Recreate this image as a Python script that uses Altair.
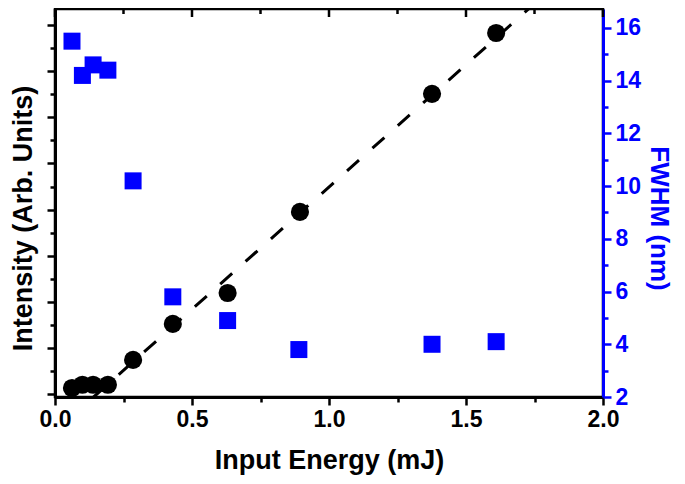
import altair as alt
import pandas as pd

# Data
energy = [0.062, 0.10, 0.139, 0.193, 0.285, 0.43, 0.63, 0.894, 1.376, 1.61]
intensity = [0.13, 0.20, 0.20, 0.20, 0.74, 1.52, 2.19, 3.95, 6.51, 7.83]
fwhm_energy = [0.062, 0.10, 0.139, 0.193, 0.285, 0.43, 0.63, 0.89, 1.376, 1.61]
fwhm = [15.5, 14.2, 14.6, 14.4, 10.2, 5.8, 4.9, 3.8, 4.0, 4.1]
fit_energy = [0.14, 1.745]
fit_intensity = [-0.07, 8.44]
x_ticks = [0.0, 0.25, 0.5, 0.75, 1.0, 1.25, 1.5, 1.75, 2.0]
top_major = [0.0, 0.5, 1.0, 1.5, 2.0]
top_minor = [0.25, 0.75, 1.25, 1.75]
left_ticks = [0, 0.5, 1, 1.5, 2, 2.5, 3, 3.5, 4, 4.5, 5, 5.5, 6, 6.5, 7, 7.5, 8]
right_ticks = [2, 3, 4, 5, 6, 7, 8, 9, 10, 11, 12, 13, 14, 15, 16]

BLUE = "#0000FF"
FONT = "Liberation Sans"

df_int = pd.DataFrame({"E": energy, "I": intensity})
df_fw = pd.DataFrame({"E": fwhm_energy, "F": fwhm})
df_fit = pd.DataFrame({"E": fit_energy, "I": fit_intensity})
df_tmaj = pd.DataFrame({"E": top_major})
df_tmin = pd.DataFrame({"E": top_minor})

xscale = alt.Scale(domain=[0, 2], nice=False, zero=False)
yleft = alt.Scale(domain=[-0.065, 8.35], nice=False, zero=False)
yright = alt.Scale(domain=[2, 16.72], nice=False, zero=False)

x_axis = alt.Axis(
    values=x_ticks,
    labelExpr="datum.value % 0.5 === 0 ? format(datum.value, '.1f') : ''",
    title="Input Energy (mJ)",
    grid=False,
    domainColor="black", domainWidth=3,
    tickColor="black", tickWidth=2.5,
    tickSize={"condition": {"test": "datum.value % 0.5 === 0", "value": 8}, "value": 5},
    labelFont=FONT, labelFontSize=23, labelFontWeight="bold", labelColor="black",
    labelPadding=3, labelFlush=False,
    titleFont=FONT, titleFontSize=27, titleFontWeight="bold", titleColor="black",
    titlePadding=16,
)

yl_axis = alt.Axis(
    values=left_ticks,
    labels=False,
    title="Intensity (Arb. Units)",
    grid=False,
    domainColor="black", domainWidth=3,
    tickColor="black", tickWidth=2.5,
    tickSize={"condition": {"test": "datum.value % 1 === 0", "value": 8}, "value": 5},
    titleFont=FONT, titleFontSize=27, titleFontWeight="bold", titleColor="black",
    titlePadding=8, titleY=209,
)

yr_axis = alt.Axis(
    orient="right",
    values=right_ticks,
    labelExpr="datum.value % 2 === 0 ? datum.label : ''",
    title="FWHM (nm)",
    grid=False,
    domainColor=BLUE, domainWidth=3,
    tickColor=BLUE, tickWidth=2.5,
    tickSize={"condition": {"test": "datum.value % 2 === 0", "value": 8}, "value": 5},
    labelFont=FONT, labelFontSize=23, labelFontWeight="bold", labelColor=BLUE,
    labelPadding=4,
    titleFont=FONT, titleFontSize=26, titleFontWeight="bold", titleColor=BLUE,
    titlePadding=5, titleY=209,
)

fit_line = alt.Chart(df_fit).mark_line(
    color="black", strokeWidth=3, strokeDash=[16, 18], clip=True
).encode(
    x=alt.X("E:Q", scale=xscale, axis=x_axis),
    y=alt.Y("I:Q", scale=yleft, axis=yl_axis),
)

circles = alt.Chart(df_int).mark_circle(color="black", opacity=1, size=330).encode(
    x=alt.X("E:Q", scale=xscale, axis=x_axis),
    y=alt.Y("I:Q", scale=yleft, axis=yl_axis),
)

left = alt.layer(fit_line, circles)

squares = alt.Chart(df_fw).mark_square(color=BLUE, opacity=1, size=289).encode(
    x=alt.X("E:Q", scale=xscale, axis=x_axis),
    y=alt.Y("F:Q", scale=yright, axis=yr_axis),
)

top_maj = alt.Chart(df_tmaj).mark_rule(color="black", strokeWidth=2.5).encode(
    x=alt.X("E:Q", scale=xscale, axis=x_axis),
    y=alt.value(0), y2=alt.value(8),
)
top_min = alt.Chart(df_tmin).mark_rule(color="black", strokeWidth=2.5).encode(
    x=alt.X("E:Q", scale=xscale, axis=x_axis),
    y=alt.value(0), y2=alt.value(5),
)

chart = alt.layer(left, squares, top_maj, top_min).resolve_scale(
    y="independent"
).properties(
    width=548, height=388,
    autosize=alt.AutoSizeParams(type="none"),
    padding={"left": 47, "top": 1, "right": 74, "bottom": 79},
).configure_view(
    stroke="black", strokeWidth=2.5
)

chart.save("out.html", embed_options={"renderer": "svg", "actions": False})
